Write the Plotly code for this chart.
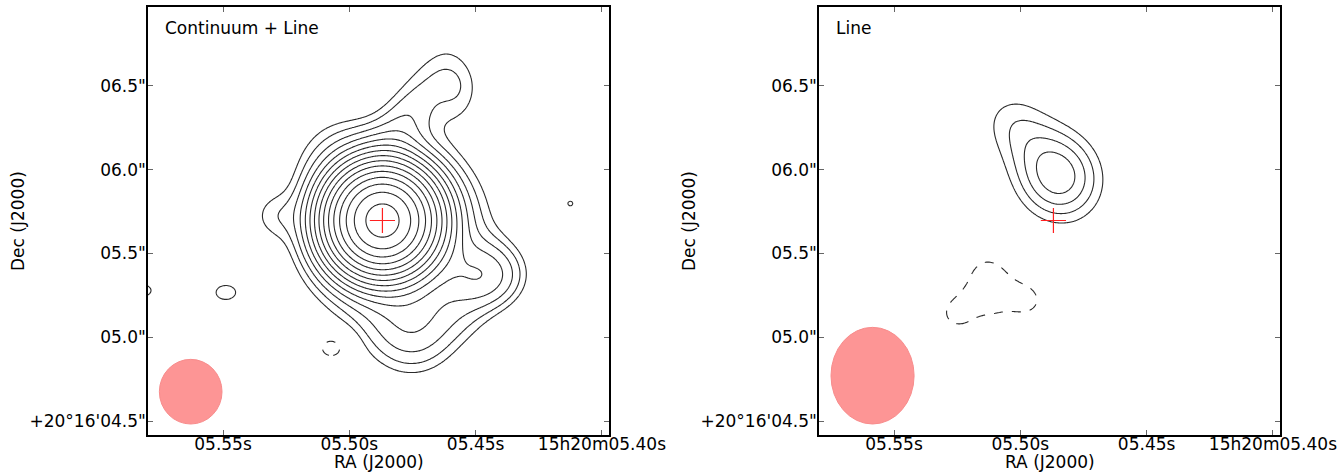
import numpy as np
import plotly.graph_objects as go

# ---------------- axes / labels ----------------
RA_TICKS = [5.55, 5.50, 5.45, 5.40]
RA_TICK_TEXT = ["05.55s", "05.50s", "05.45s", "15h20m05.40s"]
DEC_TICKS = [4.5, 5.0, 5.5, 6.0, 6.5]
DEC_TICK_TEXT = ['+20°16\'04.5"', '05.0"', '05.5"', '06.0"', '06.5"']
RA_RANGE = [5.5797, 5.3972]      # seconds of 15h20m
DEC_RANGE = [4.4164, 6.9716]     # arcsec of +20d16'
DEC_DEG = 20 + 16 / 60 + 5.5 / 3600
PANEL_TITLES = ["Continuum + Line", "Line"]

# reference position (red cross)
CROSS_RA = [5.4869]
CROSS_DEC = [5.697]

# ---------------- emission model, left panel (units of rms) ----------------
#          core    halo    W-lobe  S-lobe  E-nose  ridge   finger  NE-ext  link    isl-1   isl-2   speck   neg
L_RA   = [5.4869, 5.4829, 5.4465, 5.4750, 5.5304, 5.4770, 5.4570, 5.5047, 5.4552, 5.5490, 5.5839, 5.4125, 5.5067]
L_DEC  = [5.697,  5.637,  5.369,  5.040,  5.727,  6.324,  6.495,  6.085,  5.130,  5.267,  5.279,  5.7985, 4.939]
L_AMP  = [448.0,  14.0,   9.0,    6.0,    2.5,    4.2,    3.6,    2.5,    1.5,    3.6,    4.0,    3.3,    -5.0]
L_SMAJ = [0.161,  0.328,  0.145,  0.191,  0.107,  0.31,   0.161,  0.191,  0.125,  0.0835, 0.10,   0.028,  0.072]
L_SMIN = [0.150,  0.306,  0.131,  0.178,  0.100,  0.104,  0.106,  0.178,  0.125,  0.0645, 0.055,  0.028,  0.064]
L_PA   = [0,      0,      90,     0,      0,      -25,    0,      0,      0,      90,     90,     0,      90]
L_LEVEL0 = 3.0          # lowest contour (rms units), levels x sqrt(2)
L_NLEV = 15

# ---------------- emission model, right panel (units of rms) ----------------
#          peak    NE-ext  neg-c    neg-t   neg-bl   neg-r
R_RA   = [5.4852, 5.5046, 5.5118,  5.5131, 5.5253,  5.4970]
R_DEC  = [5.966,  6.306,  5.2534,  5.399,  5.131,   5.2122]
R_AMP  = [6.7,    2.7,    -4.8,    -2.5,   -2.6,    -2.5]
R_SMAJ = [0.227,  0.179,  0.1615,  0.068,  0.068,   0.068]
R_SMIN = [0.195,  0.167,  0.1146,  0.068,  0.068,   0.068]
R_PA   = [18,     0,      -77,     0,      0,       0]
R_LEVELS = [3, 4, 5, 6]

# synthesized beams (centre RA s, centre Dec ", RA size ", Dec size ")
BEAM_RA  = [5.5628, 5.5585]
BEAM_DEC = [4.675, 4.7705]
BEAM_W   = [0.349, 0.463]
BEAM_H   = [0.386, 0.577]

COSD = np.cos(np.radians(DEC_DEG))


def model_map(ra, dec, rc, dc, amp, smaj, smin, pa):
    R, D = np.meshgrid(ra, dec)
    F = np.zeros_like(R)
    for r0, d0, a, sj, sn, p in zip(rc, dc, amp, smaj, smin, pa):
        e = (R - r0) * 15 * COSD
        n = D - d0
        t = np.radians(p)
        u = e * np.sin(t) + n * np.cos(t)
        v = e * np.cos(t) - n * np.sin(t)
        F += a * np.exp(-0.5 * ((u / sj) ** 2 + (v / sn) ** 2))
    return F


ra_grid = np.linspace(5.392, 5.586, 420)
dec_grid = np.linspace(4.38, 7.0, 420)

FL = model_map(ra_grid, dec_grid, L_RA, L_DEC, L_AMP, L_SMAJ, L_SMIN, L_PA)
FR = model_map(ra_grid, dec_grid, R_RA, R_DEC, R_AMP, R_SMAJ, R_SMIN, R_PA)

zl_pos = (2 * np.log2(np.clip(FL, 1e-6, None) / L_LEVEL0)).astype(np.float32)
zl_neg = (-FL).astype(np.float32)
zr_pos = FR.astype(np.float32)
zr_neg = (-FR).astype(np.float32)

LINE_COL = "#2a2a2a"
one_col = [[0, LINE_COL], [1, LINE_COL]]

fig = go.Figure()


def add_contour(z, xa, ya, start, end, size, dash):
    fig.add_trace(go.Contour(
        x=ra_grid, y=dec_grid, z=z, xaxis=xa, yaxis=ya,
        autocontour=False,
        contours=dict(start=start, end=end, size=size, coloring="lines", showlabels=False),
        colorscale=one_col, showscale=False,
        line=dict(width=1.1, dash=dash, smoothing=1),
        hoverinfo="skip",
    ))


add_contour(zl_pos, "x", "y", 0, L_NLEV - 1, 1, "solid")
add_contour(zl_neg, "x", "y", L_LEVEL0, L_LEVEL0 + 0.5, 1, "dash")
add_contour(zr_pos, "x2", "y2", R_LEVELS[0], R_LEVELS[-1], 1, "solid")
add_contour(zr_neg, "x2", "y2", R_LEVELS[0], R_LEVELS[0] + 0.5, 1, "dash")

for xa, ya in (("x", "y"), ("x2", "y2")):
    fig.add_trace(go.Scatter(
        x=CROSS_RA, y=CROSS_DEC, xaxis=xa, yaxis=ya, mode="markers",
        marker=dict(symbol="cross-thin", size=18, line=dict(color="#ff2020", width=1.2)),
        hoverinfo="skip", showlegend=False,
    ))

shapes = []
for i, (xr, yr) in enumerate((("x", "y"), ("x2", "y2"))):
    half_ra = BEAM_W[i] / (15 * COSD) / 2
    shapes.append(dict(
        type="circle", xref=xr, yref=yr,
        x0=BEAM_RA[i] + half_ra, x1=BEAM_RA[i] - half_ra,
        y0=BEAM_DEC[i] - BEAM_H[i] / 2, y1=BEAM_DEC[i] + BEAM_H[i] / 2,
        fillcolor="#fd9595", line=dict(color="#f88c8c", width=1), layer="above",
    ))

FONT = "DejaVu Sans"
W, H = 1344, 472
axis_common = dict(
    showline=True, linecolor="black", linewidth=1.5, mirror="ticks",
    ticks="inside", ticklen=5, tickwidth=1, tickcolor="#666666",
    showgrid=False, zeroline=False, automargin=False,
    tickfont=dict(family=FONT, size=17, color="black"),
)
xaxis_extra = dict(ticklabelstandoff=-7)
yaxis_extra = dict(ticklabelstandoff=-3)

left_x = [148, 609]
right_x = [819, 1280]
y_dom = [1 - 435 / H, 1 - 7 / H]

fig.update_layout(
    width=W, height=H, margin=dict(l=0, r=0, t=0, b=0, autoexpand=False),
    paper_bgcolor="white", plot_bgcolor="white", showlegend=False,
    xaxis=dict(domain=[left_x[0] / W, left_x[1] / W], range=RA_RANGE, anchor="y",
               tickvals=RA_TICKS, ticktext=RA_TICK_TEXT, **axis_common, **xaxis_extra),
    yaxis=dict(domain=y_dom, range=DEC_RANGE, anchor="x",
               tickvals=DEC_TICKS, ticktext=DEC_TICK_TEXT, **axis_common, **yaxis_extra),
    xaxis2=dict(domain=[right_x[0] / W, right_x[1] / W], range=RA_RANGE, anchor="y2",
                tickvals=RA_TICKS, ticktext=RA_TICK_TEXT, **axis_common, **xaxis_extra),
    yaxis2=dict(domain=y_dom, range=DEC_RANGE, anchor="x2",
                tickvals=DEC_TICKS, ticktext=DEC_TICK_TEXT, **axis_common, **yaxis_extra),
    shapes=shapes,
)

annots = []
for (x0, x1), title, ylab_x in ((left_x, PANEL_TITLES[0], 18), (right_x, PANEL_TITLES[1], 689)):
    annots.append(dict(text=title, x=(x0 + 15) / W, y=1 - 28 / H, xref="paper", yref="paper",
                       xanchor="left", yanchor="middle", showarrow=False,
                       font=dict(family=FONT, size=17, color="black")))
    annots.append(dict(text="RA (J2000)", x=(x0 + x1) / 2 / W, y=1 - 462 / H, xref="paper", yref="paper",
                       xanchor="center", yanchor="middle", showarrow=False,
                       font=dict(family=FONT, size=17, color="black")))
    annots.append(dict(text="Dec (J2000)", x=ylab_x / W, y=1 - 221 / H, xref="paper", yref="paper",
                       xanchor="center", yanchor="middle", showarrow=False, textangle=-90,
                       font=dict(family=FONT, size=17, color="black")))
fig.update_layout(annotations=annots)

fig.write_html("out.html")
